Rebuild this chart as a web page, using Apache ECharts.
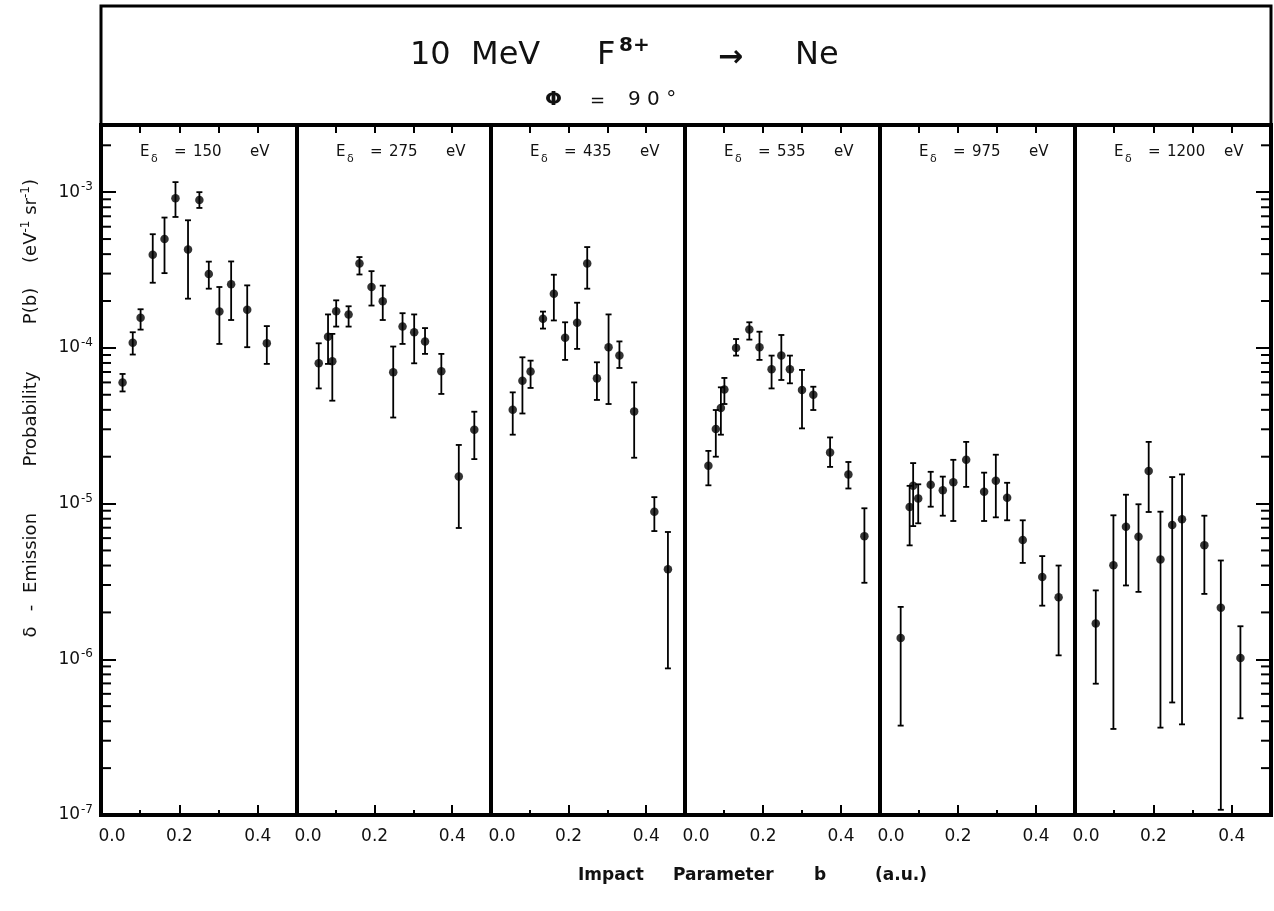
<!DOCTYPE html>
<html>
<head>
<meta charset="utf-8">
<script src="https://cdn.jsdelivr.net/npm/echarts@6/dist/echarts.min.js"></script>
<style>
html,body{margin:0;padding:0;background:#fff;}
#chart{width:1274px;height:911px;}
</style>
</head>
<body>
<div id="chart"></div>
<script>
// ---------------- data ----------------
// Electron energies of the six panels (eV)
const energies = ['150', '275', '435', '535', '975', '1200'];

// rows: [impact parameter b (a.u.), P(b), error-bar low, error-bar high]
const panel150 = [
  [0.055, 6.0e-5, 5.25e-5, 6.8e-5],
  [0.081, 1.08e-4, 9.06e-5, 1.26e-4],
  [0.101, 1.56e-4, 1.31e-4, 1.77e-4],
  [0.132, 3.97e-4, 2.62e-4, 5.37e-4],
  [0.162, 5.0e-4, 3.02e-4, 6.87e-4],
  [0.190, 9.15e-4, 6.93e-4, 1.16e-3],
  [0.222, 4.28e-4, 2.07e-4, 6.6e-4],
  [0.251, 8.92e-4, 7.92e-4, 1.0e-3],
  [0.275, 2.98e-4, 2.40e-4, 3.58e-4],
  [0.302, 1.71e-4, 1.06e-4, 2.46e-4],
  [0.332, 2.56e-4, 1.51e-4, 3.59e-4],
  [0.373, 1.76e-4, 1.01e-4, 2.52e-4],
  [0.423, 1.07e-4, 7.89e-5, 1.38e-4]
];
const panel275 = [
  [0.056, 7.96e-5, 5.49e-5, 1.07e-4],
  [0.080, 1.18e-4, 7.89e-5, 1.64e-4],
  [0.091, 8.2e-5, 4.58e-5, 1.23e-4],
  [0.101, 1.72e-4, 1.37e-4, 2.02e-4],
  [0.133, 1.64e-4, 1.37e-4, 1.85e-4],
  [0.161, 3.48e-4, 2.96e-4, 3.83e-4],
  [0.192, 2.46e-4, 1.87e-4, 3.11e-4],
  [0.221, 1.99e-4, 1.51e-4, 2.51e-4],
  [0.248, 6.97e-5, 3.57e-5, 1.02e-4],
  [0.272, 1.37e-4, 1.06e-4, 1.67e-4],
  [0.302, 1.26e-4, 7.96e-5, 1.64e-4],
  [0.330, 1.10e-4, 9.15e-5, 1.34e-4],
  [0.372, 7.07e-5, 5.06e-5, 9.15e-5],
  [0.417, 1.49e-5, 6.97e-6, 2.38e-5],
  [0.457, 2.98e-5, 1.93e-5, 3.89e-5]
];
const panel435 = [
  [0.056, 4.0e-5, 2.77e-5, 5.18e-5],
  [0.081, 6.16e-5, 3.79e-5, 8.70e-5],
  [0.102, 7.04e-5, 5.53e-5, 8.28e-5],
  [0.134, 1.54e-4, 1.33e-4, 1.71e-4],
  [0.162, 2.23e-4, 1.50e-4, 2.95e-4],
  [0.191, 1.16e-4, 8.37e-5, 1.46e-4],
  [0.222, 1.45e-4, 9.85e-5, 1.95e-4],
  [0.248, 3.48e-4, 2.40e-4, 4.44e-4],
  [0.273, 6.37e-5, 4.63e-5, 8.08e-5],
  [0.303, 1.01e-4, 4.36e-5, 1.64e-4],
  [0.331, 8.92e-5, 7.43e-5, 1.10e-4],
  [0.369, 3.91e-5, 1.97e-5, 6.0e-5],
  [0.421, 8.87e-6, 6.66e-6, 1.10e-5],
  [0.456, 3.79e-6, 8.74e-7, 6.57e-6]
];
const panel535 = [
  [0.060, 1.75e-5, 1.31e-5, 2.18e-5],
  [0.079, 3.01e-5, 2.0e-5, 3.99e-5],
  [0.092, 4.11e-5, 2.77e-5, 5.58e-5],
  [0.101, 5.41e-5, 4.36e-5, 6.41e-5],
  [0.131, 1.0e-4, 8.92e-5, 1.14e-4],
  [0.165, 1.31e-4, 1.13e-4, 1.46e-4],
  [0.191, 1.01e-4, 8.37e-5, 1.27e-4],
  [0.222, 7.28e-5, 5.49e-5, 8.92e-5],
  [0.247, 8.92e-5, 6.22e-5, 1.21e-4],
  [0.269, 7.28e-5, 5.92e-5, 8.92e-5],
  [0.300, 5.36e-5, 3.04e-5, 7.22e-5],
  [0.329, 5.0e-5, 3.99e-5, 5.63e-5],
  [0.372, 2.13e-5, 1.72e-5, 2.66e-5],
  [0.419, 1.54e-5, 1.25e-5, 1.85e-5],
  [0.460, 6.18e-6, 3.10e-6, 9.33e-6]
];
const panel975 = [
  [0.053, 1.37e-6, 3.75e-7, 2.17e-6],
  [0.076, 9.50e-6, 5.39e-6, 1.30e-5],
  [0.085, 1.30e-5, 7.17e-6, 1.82e-5],
  [0.098, 1.08e-5, 7.47e-6, 1.33e-5],
  [0.130, 1.32e-5, 9.55e-6, 1.60e-5],
  [0.161, 1.22e-5, 8.36e-6, 1.49e-5],
  [0.188, 1.37e-5, 7.73e-6, 1.91e-5],
  [0.221, 1.91e-5, 1.28e-5, 2.49e-5],
  [0.267, 1.19e-5, 7.73e-6, 1.58e-5],
  [0.297, 1.40e-5, 8.16e-6, 2.06e-5],
  [0.326, 1.09e-5, 7.81e-6, 1.36e-5],
  [0.366, 5.83e-6, 4.16e-6, 7.81e-6],
  [0.416, 3.38e-6, 2.21e-6, 4.60e-6],
  [0.458, 2.50e-6, 1.06e-6, 4.0e-6]
];
const panel1200 = [
  [0.053, 1.70e-6, 6.97e-7, 2.77e-6],
  [0.098, 4.02e-6, 3.57e-7, 8.41e-6],
  [0.130, 7.10e-6, 2.98e-6, 1.14e-5],
  [0.162, 6.12e-6, 2.71e-6, 9.9e-6],
  [0.188, 1.62e-5, 8.83e-6, 2.49e-5],
  [0.218, 4.38e-6, 3.64e-7, 8.87e-6],
  [0.248, 7.28e-6, 5.28e-7, 1.48e-5],
  [0.273, 7.92e-6, 3.82e-7, 1.54e-5],
  [0.330, 5.41e-6, 2.63e-6, 8.36e-6],
  [0.372, 2.14e-6, 1.08e-7, 4.31e-6],
  [0.422, 1.02e-6, 4.18e-7, 1.63e-6]
];

// axis ticks / labels
const xTickLabels = ['0.0', '0.2', '0.4'];       // at b = 0, 0.2, 0.4
const yRange = [1e-7, 2.7e-3];
const yMinorMultipliers = [2, 3, 4, 5, 6, 7, 8, 9];

// ---------------- build chart ----------------
const panels = [panel150, panel275, panel435, panel535, panel975, panel1200];
const FONT = 'DejaVu Sans';
const gridEdges = [101, 297, 491, 685, 880, 1075, 1271];
const TOP = 125, BOTTOM = 815;

// minor log ticks
const minorVals = [];
for (let e = -7; e <= -3; e++) {
  yMinorMultipliers.forEach(m => {
    const v = m * Math.pow(10, e);
    if (v < yRange[1]) minorVals.push(v);
  });
}

const grids = [], xAxes = [], yAxes = [], series = [], graphics = [];
const lineStyle = { color: '#000', width: 2 };

function xLabel(v) {
  const k = Math.round(v / 0.2);
  if (Math.abs(v - k * 0.2) > 1e-6 || k > 2) return '';
  return k === 0 ? '{z|' + xTickLabels[0] + '}' : xTickLabels[k];
}
function yLabel(v) {
  const l = Math.log10(v), e = Math.round(l);
  if (Math.abs(l - e) > 1e-6) return '';
  return '{b|10}{s|' + e + '}';
}

panels.forEach((rows, i) => {
  const left = gridEdges[i], width = gridEdges[i + 1] - gridEdges[i];
  grids.push({
    left: left, top: TOP, width: width, height: BOTTOM - TOP,
    show: true, borderColor: '#000', borderWidth: 4, backgroundColor: 'transparent',
    containLabel: false, outerBoundsMode: 'none'
  });
  const xBase = { gridIndex: i, type: 'value', min: 0, max: 0.5, splitLine: { show: false },
                  axisLine: { show: false, onZero: false } };
  // bottom: short ticks every 0.1 + labels
  xAxes.push(Object.assign({}, xBase, {
    position: 'bottom', interval: 0.1,
    axisTick: { show: true, inside: true, length: 5, lineStyle: lineStyle },
    axisLabel: { show: true, formatter: xLabel, margin: 13, color: '#111',
                 fontFamily: FONT, fontSize: 17,
                 rich: { z: { fontFamily: FONT, fontSize: 17, color: '#111', padding: [0, 0, 0, 22] } } }
  }));
  // bottom: long ticks every 0.2
  xAxes.push(Object.assign({}, xBase, {
    position: 'bottom', interval: 0.2,
    axisTick: { show: true, inside: true, length: 10, lineStyle: lineStyle },
    axisLabel: { show: false }
  }));
  // top ticks
  xAxes.push(Object.assign({}, xBase, {
    position: 'top', interval: 0.1,
    axisTick: { show: true, inside: true, length: 8, lineStyle: lineStyle },
    axisLabel: { show: false }
  }));
  const isFirst = i === 0, isLast = i === panels.length - 1;
  yAxes.push({
    gridIndex: i, type: 'log', logBase: 10, min: yRange[0], max: yRange[1],
    position: isLast ? 'right' : 'left',
    axisLine: { show: false, onZero: false }, splitLine: { show: false },
    axisTick: { show: isFirst || isLast, inside: true, length: 15, lineStyle: lineStyle },
    axisLabel: { show: isFirst, formatter: yLabel, margin: 8, color: '#111',
                 rich: { b: { fontFamily: FONT, fontSize: 17, color: '#111' },
                         s: { fontFamily: FONT, fontSize: 12, color: '#111', padding: [0, 0, 10, 1] } } }
  });

  // error bars
  series.push({
    type: 'custom', xAxisIndex: 3 * i, yAxisIndex: i, silent: true, clip: false, z: 3,
    encode: { x: 0, y: [1, 2, 3] },
    data: rows,
    renderItem: function (params, api) {
      const b = api.value(0);
      const x = api.coord([b, api.value(1)])[0];
      const yLo = api.coord([b, api.value(2)])[1];
      const yHi = api.coord([b, api.value(3)])[1];
      const st = { stroke: '#000', lineWidth: 1.8 };
      return { type: 'group', children: [
        { type: 'line', shape: { x1: x, y1: yLo, x2: x, y2: yHi }, style: st },
        { type: 'line', shape: { x1: x - 3, y1: yHi, x2: x + 3, y2: yHi }, style: st },
        { type: 'line', shape: { x1: x - 3, y1: yLo, x2: x + 3, y2: yLo }, style: st }
      ] };
    }
  });
  // points
  series.push({
    type: 'scatter', xAxisIndex: 3 * i, yAxisIndex: i, silent: true, z: 4,
    symbol: 'circle', symbolSize: 8.5, itemStyle: { color: '#000' },
    data: rows.map(r => [r[0], r[1]])
  });

  // minor log ticks on the outer frame
  if (isFirst || isLast) {
    const xEdge = isFirst ? 0 : 0.5, dir = isFirst ? 1 : -1;
    series.push({
      type: 'custom', xAxisIndex: 3 * i, yAxisIndex: i, silent: true, clip: false, z: 3,
      encode: { x: 0, y: 1 },
      data: minorVals.map(v => [xEdge, v]),
      renderItem: function (params, api) {
        const p = api.coord([api.value(0), api.value(1)]);
        return { type: 'line', shape: { x1: p[0], y1: p[1], x2: p[0] + dir * 10, y2: p[1] },
                 style: { stroke: '#000', lineWidth: 2 } };
      }
    });
  }

  // panel label  E_δ = ... eV
  const t = { fontFamily: FONT, fill: '#111', verticalAlign: 'middle', align: 'left' };
  graphics.push({ type: 'text', x: left + 39, y: 152, style: Object.assign({ text: 'E', fontSize: 15 }, t) });
  graphics.push({ type: 'text', x: left + 50, y: 159, style: Object.assign({ text: 'δ', fontSize: 11 }, t) });
  graphics.push({ type: 'text', x: left + 73, y: 152, style: Object.assign({ text: '=', fontSize: 15 }, t) });
  graphics.push({ type: 'text', x: left + 92, y: 152, style: Object.assign({ text: energies[i], fontSize: 15 }, t) });
  graphics.push({ type: 'text', x: left + 149, y: 152, style: Object.assign({ text: 'eV', fontSize: 15 }, t) });
});

// title box
graphics.push({ type: 'rect', shape: { x: 101, y: 6, width: 1170, height: 119 },
                style: { fill: 'none', stroke: '#000', lineWidth: 3 }, z: 10 });
const tt = { fontFamily: FONT, fill: '#111', verticalAlign: 'middle', align: 'left' };
graphics.push({ type: 'text', x: 410, y: 56, style: Object.assign({ text: '10  MeV', fontSize: 32 }, tt) });
graphics.push({ type: 'text', x: 597, y: 56, style: Object.assign({ text: 'F', fontSize: 32 }, tt) });
graphics.push({ type: 'text', x: 619, y: 46, style: Object.assign({ text: '8+', fontSize: 20, fontWeight: 'bold' }, tt) });
graphics.push({ type: 'text', x: 718, y: 58, style: Object.assign({ text: '→', fontSize: 30, fontWeight: 'bold' }, tt) });
graphics.push({ type: 'text', x: 795, y: 56, style: Object.assign({ text: 'Ne', fontSize: 32 }, tt) });
graphics.push({ type: 'text', x: 545, y: 100, style: Object.assign({ text: 'Φ', fontSize: 20, fontWeight: 'bold' }, tt) });
graphics.push({ type: 'text', x: 590, y: 101, style: Object.assign({ text: '=', fontSize: 18 }, tt) });
graphics.push({ type: 'text', x: 628, y: 100, style: Object.assign({ text: '9 0 °', fontSize: 20 }, tt) });

// x-axis title
const xt = { fontFamily: FONT, fill: '#111', verticalAlign: 'middle', align: 'left', fontSize: 17, fontWeight: 'bold' };
graphics.push({ type: 'text', x: 578, y: 876, style: Object.assign({ text: 'Impact' }, xt) });
graphics.push({ type: 'text', x: 673, y: 876, style: Object.assign({ text: 'Parameter' }, xt) });
graphics.push({ type: 'text', x: 814, y: 876, style: Object.assign({ text: 'b' }, xt) });
graphics.push({ type: 'text', x: 875, y: 876, style: Object.assign({ text: '(a.u.)' }, xt) });

// y-axis title (rotated pieces, centred at their positions along the axis)
const yTitleRich = {
  t: { fontFamily: FONT, fontSize: 18, fill: '#111' },
  s: { fontFamily: FONT, fontSize: 12, fill: '#111', padding: [0, 0, 10, 0] }
};
[
  ['{t|δ}', 632],
  ['{t|-}', 608],
  ['{t|Emission}', 553],
  ['{t|Probability}', 419],
  ['{t|P(b)}', 306],
  ['{t|(eV}{s|-1}{t| sr}{s|-1}{t|)}', 221]
].forEach(([txt, yc]) => {
  graphics.push({
    type: 'text', x: 31, y: yc, rotation: Math.PI / 2,
    style: { text: txt, align: 'center', verticalAlign: 'middle', rich: yTitleRich }
  });
});

const chart = echarts.init(document.getElementById('chart'), null, { renderer: 'canvas' });
chart.setOption({
  backgroundColor: '#fff',
  animation: false,
  grid: grids,
  xAxis: xAxes,
  yAxis: yAxes,
  series: series,
  graphic: graphics
});
</script>
</body>
</html>
